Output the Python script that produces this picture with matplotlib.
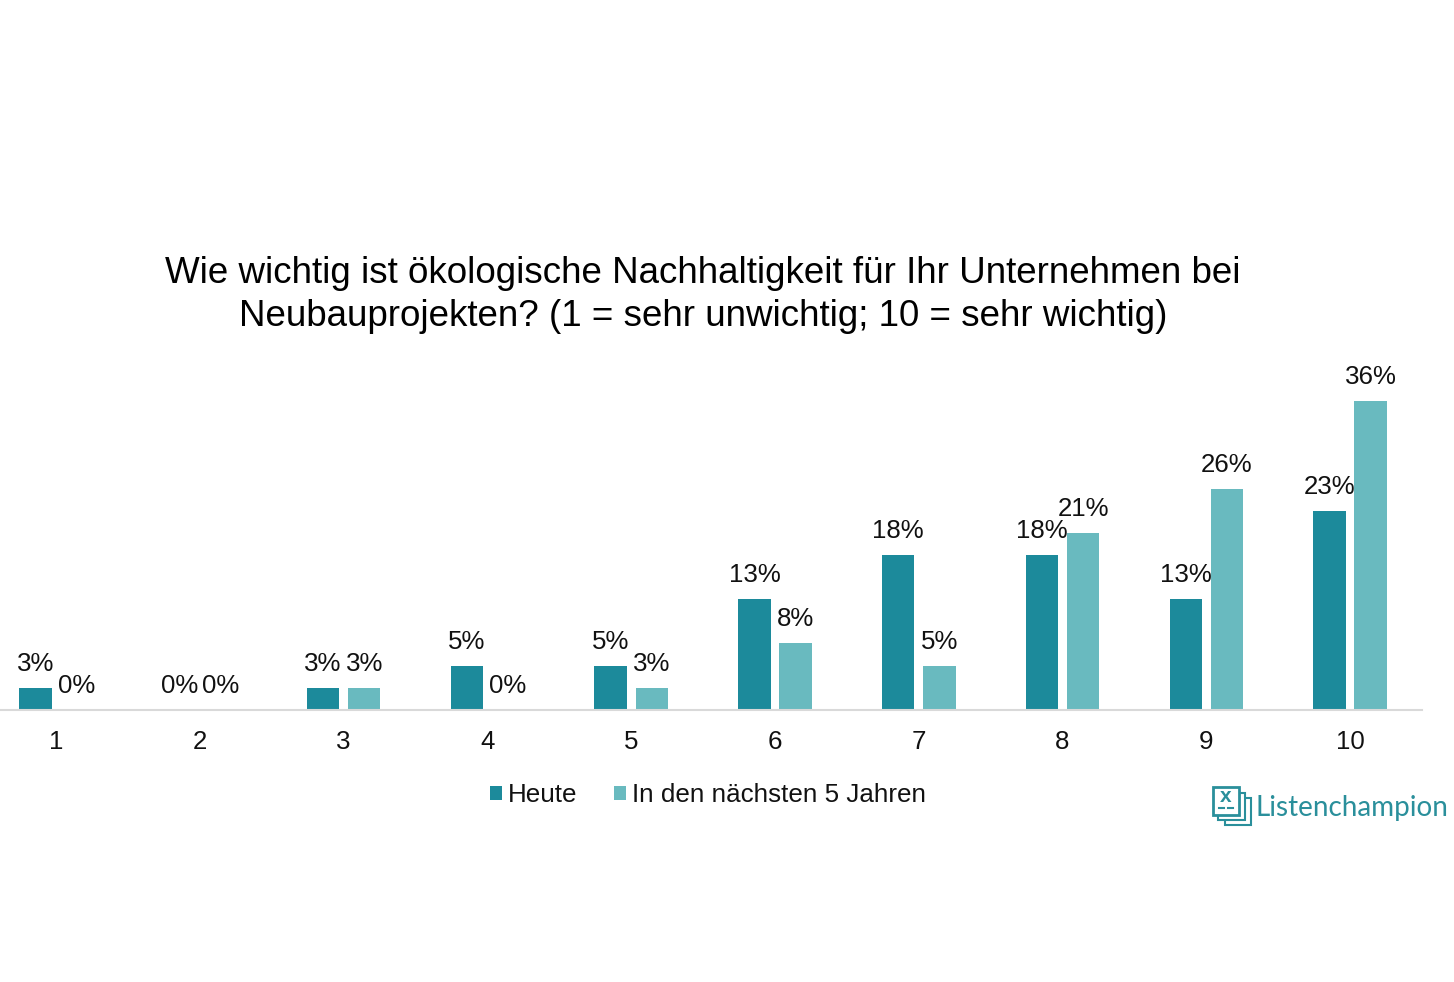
import matplotlib
matplotlib.use("Agg")
import matplotlib.pyplot as plt
import numpy as np
from matplotlib.patches import Rectangle

plt.rcParams['font.family'] = ['Liberation Sans', 'DejaVu Sans']

# data
categories = ["1", "2", "3", "4", "5", "6", "7", "8", "9", "10"]
heute = [3, 0, 3, 5, 5, 13, 18, 18, 13, 23]
spaeter = [0, 0, 3, 0, 3, 8, 5, 21, 26, 36]
# labels are rounded, the bars are a little more exact
heute_hoehe = [2.5, 0, 2.5, 5.1, 5.1, 12.7, 17.8, 17.8, 12.7, 22.9]
spaeter_hoehe = [0, 0, 2.5, 0, 2.5, 7.7, 5.1, 20.3, 25.4, 35.5]
title = "Wie wichtig ist ökologische Nachhaltigkeit für Ihr Unternehmen bei\nNeubauprojekten? (1 = sehr unwichtig; 10 = sehr wichtig)"

W, H = 1454, 982
fig = plt.figure(figsize=(W / 100, H / 100), dpi=100, facecolor="white")

# axes covers the plot band, baseline at y=710
ax = fig.add_axes([0 / W, 1 - 710 / H, 1422 / W, (710 - 360) / H])
x = np.arange(len(categories))
ax.set_xlim(-0.39, 9.5)
ax.set_ylim(0, 350 / (309 / 35.5))

w = 0.225
off = 0.143
c1 = "#1c8a9b"
c2 = "#69babf"
b1 = ax.bar(x - off, heute_hoehe, w, color=c1, label="Heute")
b2 = ax.bar(x + off, spaeter_hoehe, w, color=c2, label="In den nächsten 5 Jahren")

for i in range(len(categories)):
    ax.annotate(f"{heute[i]}%", (x[i] - off, heute_hoehe[i]), xytext=(0, 12), textcoords="offset pixels",
                ha="center", va="bottom", fontsize=18.6, color="#111111")
    ax.annotate(f"{spaeter[i]}%", (x[i] + off, spaeter_hoehe[i]), xytext=(0, 12), textcoords="offset pixels",
                ha="center", va="bottom", fontsize=18.6, color="#111111")

for s in ["top", "left", "right"]:
    ax.spines[s].set_visible(False)
ax.spines["bottom"].set_color("#d9d9d9")
ax.spines["bottom"].set_linewidth(1.5)
ax.set_yticks([])
ax.set_xticks(x)
ax.set_xticklabels(categories, fontsize=18.6, color="#111111")
ax.tick_params(axis="x", length=0, pad=14.5)

fig.text(703 / W, 1 - 295 / H, title, ha="center", va="center", fontsize=26.45, color="black", linespacing=1.3)

fig.legend(handles=[b1, b2], loc="center", bbox_to_anchor=(708 / W, 1 - 795 / H), ncol=2, frameon=False,
           fontsize=18.75, handlelength=0.46, handleheight=0.46, handletextpad=0.25, columnspacing=1.4,
           labelcolor="#111111", borderpad=0)

# logo
logo_c = "#2a8f9b"
fig.text(1256 / W, 1 - 808 / H, "Listenchampion", fontsize=20.1, color=logo_c, family="Lato", ha="left", va="center")
logo = fig.add_axes([1210 / W, 1 - 828 / H, 44 / W, 44 / H])
logo.set_xlim(0, 44)
logo.set_ylim(44, 0)
logo.axis("off")
logo.add_patch(Rectangle((15, 14), 26, 27, fc="white", ec=logo_c, lw=1.5))
logo.add_patch(Rectangle((8, 9), 27, 27, fc="white", ec=logo_c, lw=1.5))
logo.add_patch(Rectangle((3, 3), 26, 28, fc="white", ec=logo_c, lw=2))
logo.text(16, 13, "x", color=logo_c, fontsize=15, fontweight="bold", ha="center", va="center")
logo.plot([9, 14], [24, 24], color=logo_c, lw=1.5)
logo.plot([18, 23], [24, 24], color=logo_c, lw=1.5)

fig.savefig("out.png", dpi=100)
